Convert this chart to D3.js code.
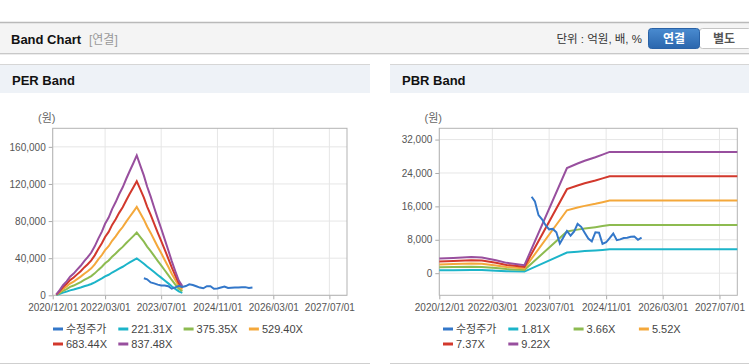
<!DOCTYPE html>
<html>
<head>
<meta charset="utf-8">
<script src="https://cdn.jsdelivr.net/npm/d3@7"></script>
<style>
  body { margin: 0; background: #fff; }
  svg { display: block; font-family: "Liberation Sans", Arial, "Noto Sans CJK KR", sans-serif; }
</style>
</head>
<body>
<svg id="page" width="749" height="364"></svg>
<script>
/* global d3 */

var parseDate = d3.timeParse('%Y/%m/%d');

// x axis
var xDomain = ['2020/12/01', '2027/12/01'];
var tickDates = ['2020/12/01', '2022/03/01', '2023/07/01', '2024/11/01', '2026/03/01', '2027/07/01'];

// y axis
var perTicks = [0, 40000, 80000, 120000, 160000];
var pbrTicks = [0, 8000, 16000, 24000, 32000];

// band multiples (legend)
var perMultiples = [221.31, 375.35, 529.40, 683.44, 837.48];
var pbrMultiples = [1.81, 3.66, 5.52, 7.37, 9.22];
var priceName = '수정주가';

// EPS, monthly from 2021/01
var epsStart = '2021/01/01';
var epsValues = [1, 7, 13, 18, 24, 28, 33, 38, 44, 49, 55, 63,
                 73, 82, 92, 100, 111, 120, 130, 139, 150, 160, 170, 180,
                 167, 154, 140, 127, 113, 99, 86, 72, 58, 44, 31, 19,
                 12];

// BPS
var bpsDates = ['2020/12/01', '2021/04/01', '2021/09/01', '2021/12/01', '2022/04/01', '2022/07/01',
                '2022/12/01', '2023/12/01', '2024/03/01', '2024/05/01', '2024/08/01', '2024/10/01',
                '2024/12/01', '2027/12/01'];
var bpsValues = [380, 397, 423, 408, 336, 268, 206, 2730, 2850, 2920, 3010, 3080, 3150, 3150];

// adjusted price, monthly from 2023/02
var priceStart = '2023/02/01';
var priceValues = [18300, 17200, 13900, 12900, 11500, 10500, 10600, 9800, 7100, 8600, 10100, 9000,
                   10000, 11800, 11100, 9700, 8300, 7600, 9800, 9700, 7000, 7400, 8400, 9500,
                   7900, 8100, 8400, 8500, 8700, 8800, 8000, 8500];

var priceColor = '#3377c9';
var bandColors = ['#1cb4c9', '#8dbb50', '#f4a83b', '#d2382c', '#984f9e'];

var svg = d3.select('#page');

function translate(x, y) { return 'translate(' + x + ',' + y + ')'; }

function monthly(start, values) {
  var d0 = parseDate(start);
  return values.map(function(v, i) { return { date: d3.timeMonth.offset(d0, i), value: v }; });
}

function pairs(dates, values) {
  return dates.map(function(d, i) { return { date: parseDate(d), value: values[i] }; });
}

function scaled(series, m) {
  return series.map(function(p) { return { date: p.date, value: p.value * m }; });
}

function fmtMultiple(m) { return m.toFixed(2) + 'X'; }

drawTopBar();

drawPanel({
  x: 0, width: 370, title: 'PER Band',
  left: 52.7, right: 347,
  yDomain: [0, 180000], yTicks: perTicks,
  bands: perMultiples.map(function(m) { return scaled(monthly(epsStart, epsValues), m); }),
  multiples: perMultiples
});

drawPanel({
  x: 390, width: 359, title: 'PBR Band',
  left: 49.3, right: 347.3,
  yDomain: [-5300, 34700], yTicks: pbrTicks,
  bands: pbrMultiples.map(function(m) { return scaled(pairs(bpsDates, bpsValues), m); }),
  multiples: pbrMultiples
});

function drawTopBar() {
  var bar = svg.append('g');

  bar.append('rect')
    .attr('x', 0).attr('y', 22).attr('width', 749).attr('height', 31)
    .attr('fill', '#f4f4f4')
  ;
  bar.append('line')
    .attr('x1', 0).attr('x2', 749).attr('y1', 22.5).attr('y2', 22.5)
    .attr('stroke', '#b9b9b9').attr('stroke-width', 1.5)
  ;
  bar.append('line')
    .attr('x1', 0).attr('x2', 749).attr('y1', 53.5).attr('y2', 53.5)
    .attr('stroke', '#c8c8c8')
  ;
  bar.append('line')
    .attr('x1', 0).attr('x2', 749).attr('y1', 54.5).attr('y2', 54.5)
    .attr('stroke', '#ececec')
  ;

  bar.append('text')
    .attr('x', 11).attr('y', 43.5)
    .attr('font-size', 13).attr('font-weight', 'bold').attr('fill', '#111')
    .text('Band Chart')
  ;
  bar.append('text')
    .attr('x', 89).attr('y', 43.5)
    .attr('font-size', 12).attr('fill', '#999')
    .text('[연결]')
  ;
  bar.append('text')
    .attr('x', 642).attr('y', 43)
    .attr('font-size', 11.5).attr('fill', '#333').attr('text-anchor', 'end')
    .text('단위 : 억원, 배, %')
  ;

  var grad = svg.append('defs').append('linearGradient')
    .attr('id', 'btnBlue').attr('x1', 0).attr('x2', 0).attr('y1', 0).attr('y2', 1);
  grad.append('stop').attr('offset', '0%').attr('stop-color', '#4a8bd0');
  grad.append('stop').attr('offset', '100%').attr('stop-color', '#2a66ad');

  bar.append('rect')
    .attr('x', 699.5).attr('y', 28.5).attr('width', 52).attr('height', 20).attr('rx', 3)
    .attr('fill', '#fff').attr('stroke', '#c4c4c4')
  ;
  bar.append('rect')
    .attr('x', 648.5).attr('y', 28.5).attr('width', 51).attr('height', 20).attr('rx', 3)
    .attr('fill', 'url(#btnBlue)').attr('stroke', '#2a62a6')
  ;
  bar.append('text')
    .attr('x', 674).attr('y', 43)
    .attr('font-size', 12).attr('font-weight', 'bold').attr('fill', '#fff').attr('text-anchor', 'middle')
    .text('연결')
  ;
  bar.append('text')
    .attr('x', 724).attr('y', 43)
    .attr('font-size', 12).attr('font-weight', 'bold').attr('fill', '#555').attr('text-anchor', 'middle')
    .text('별도')
  ;
}

function drawPanel(cfg) {
  var top = 128.3, bottom = 295.3;
  var g = svg.append('g').attr('transform', translate(cfg.x, 0));

  // panel header
  g.append('rect')
    .attr('x', 0).attr('y', 65).attr('width', cfg.width).attr('height', 28)
    .attr('fill', '#eef2f7')
  ;
  g.append('line')
    .attr('x1', 0).attr('x2', cfg.width).attr('y1', 64.5).attr('y2', 64.5)
    .attr('stroke', '#d6d6d6')
  ;
  g.append('line')
    .attr('x1', 0).attr('x2', cfg.width).attr('y1', 363.5).attr('y2', 363.5)
    .attr('stroke', '#cfcfcf')
  ;
  g.append('text')
    .attr('x', 12).attr('y', 84.5)
    .attr('font-size', 13).attr('font-weight', 'bold').attr('fill', '#111')
    .text(cfg.title)
  ;

  var x = d3.scaleTime().domain(xDomain.map(parseDate)).range([cfg.left, cfg.right]);
  var y = d3.scaleLinear().domain(cfg.yDomain).range([bottom, top]);
  var ticksX = tickDates.map(parseDate);

  // grid
  g.append('g').selectAll('line.vgrid').data(ticksX)
    .enter().append('line').classed('vgrid', true)
      .attr('x1', x).attr('x2', x).attr('y1', top).attr('y2', bottom)
      .attr('stroke', '#e6e6e6')
  ;
  g.append('g').selectAll('line.hgrid').data(cfg.yTicks)
    .enter().append('line').classed('hgrid', true)
      .attr('x1', cfg.left).attr('x2', cfg.right)
      .attr('y1', y).attr('y2', y)
      .attr('stroke', '#e6e6e6')
  ;

  // axes
  var yAxis = g.append('g')
    .attr('transform', translate(cfg.left, 0))
    .call(d3.axisLeft(y).tickValues(cfg.yTicks).tickSize(4).tickPadding(3).tickFormat(d3.format(',')));
  var xAxis = g.append('g')
    .attr('transform', translate(0, bottom))
    .call(d3.axisBottom(x).tickValues(ticksX).tickSize(4).tickPadding(5).tickFormat(d3.timeFormat('%Y/%m/%d')));

  [yAxis, xAxis].forEach(function(a) {
    a.attr('font-family', null).attr('font-size', 10);
    a.select('.domain').remove();
    a.selectAll('.tick line').attr('stroke', '#aaa');
    a.selectAll('.tick text').attr('fill', '#555');
  });

  // frame
  g.append('rect')
    .attr('x', cfg.left).attr('y', top)
    .attr('width', cfg.right - cfg.left).attr('height', bottom - top)
    .attr('fill', 'none').attr('stroke', '#b3b3b3')
  ;

  g.append('text')
    .attr('x', cfg.left - 6).attr('y', 122)
    .attr('font-size', 11).attr('fill', '#666').attr('text-anchor', 'middle')
    .text('(원)')
  ;

  var line = d3.line()
    .x(function(d) { return x(d.date); })
    .y(function(d) { return y(d.value); });

  g.append('g').selectAll('path.band').data(cfg.bands)
    .enter().append('path').classed('band', true)
      .attr('d', line)
      .attr('fill', 'none')
      .attr('stroke', function(d, i) { return bandColors[i]; })
      .attr('stroke-width', 2)
  ;
  g.append('path')
    .datum(monthly(priceStart, priceValues))
    .attr('d', line)
    .attr('fill', 'none')
    .attr('stroke', priceColor)
    .attr('stroke-width', 2)
  ;

  // legend
  var items = [{ name: priceName, color: priceColor }].concat(cfg.multiples.map(function(m, i) {
    return { name: fmtMultiple(m), color: bandColors[i] };
  }));

  var legend = g.append('g').selectAll('g.item').data(items)
    .enter().append('g').classed('item', true)
      .attr('transform', function(d, i) { return translate(53 + (i % 4) * 65.3, 329 + Math.floor(i / 4) * 15); })
  ;
  legend.append('line')
    .attr('x1', 0).attr('x2', 10).attr('y1', 0).attr('y2', 0)
    .attr('stroke', function(d) { return d.color; }).attr('stroke-width', 3)
  ;
  legend.append('text')
    .attr('x', 13).attr('y', 4)
    .attr('font-size', 11).attr('fill', '#444')
    .text(function(d) { return d.name; })
  ;
}
</script>
</body>
</html>
